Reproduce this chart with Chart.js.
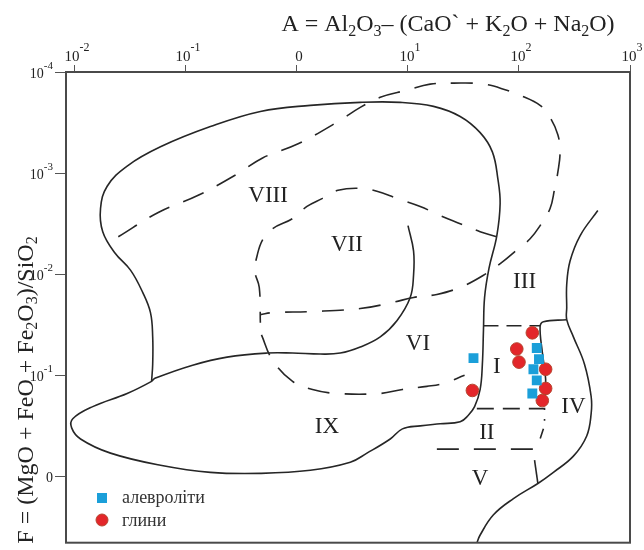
<!DOCTYPE html>
<html>
<head>
<meta charset="utf-8">
<script src="https://cdn.jsdelivr.net/npm/chart.js@4.4.0/dist/chart.umd.min.js"></script>
<style>
  html, body { margin: 0; padding: 0; background: #fff; }
  #wrap { width: 644px; height: 550px; }
</style>
</head>
<body>
<div id="wrap"><canvas id="chart" width="644" height="550"></canvas></div>
<script>
// всі значення - десяткові логарифми [lg A, lg F], зчитані з діаграми
const seriesNames = ['алевроліти', 'глини'];

const siltstones = [[1.59, -1.17], [2.16, -1.27], [2.18, -1.16], [2.13, -1.06], [2.16, -0.95], [2.12, -0.82]];
const clays = [[2.12, -1.42], [1.98, -1.26], [2.00, -1.13], [2.24, -1.06], [1.58, -0.85], [2.24, -0.87], [2.21, -0.75]];

// межі полів (суцільні)
const outerBoundary = [
    [1.00, -2.48], [1.05, -2.23], [1.05, -1.99], [1.02, -1.77], [0.90, -1.54], [0.75, -1.38], [0.57, -1.28],
    [0.39, -1.22], [0.21, -1.21], [-0.04, -1.22], [-0.27, -1.22], [-0.63, -1.18], [-0.94, -1.10], [-1.28, -0.97],
    [-1.31, -0.94], [-1.53, -0.82], [-1.84, -0.69], [-2.02, -0.57], [-2.03, -0.48], [-1.95, -0.37], [-1.68, -0.23],
    [-1.23, -0.11], [-0.78, -0.04], [-0.33, -0.03], [0.12, -0.06], [0.48, -0.14], [0.63, -0.23], [0.84, -0.37],
    [0.95, -0.47], [1.11, -0.50], [1.29, -0.52], [1.47, -0.54], [1.54, -0.60], [1.60, -0.69], [1.65, -0.86],
    [1.67, -1.11], [1.68, -1.45], [1.69, -1.77], [1.73, -2.06], [1.80, -2.38], [1.83, -2.70], [1.81, -2.94],
    [1.76, -3.21], [1.65, -3.40], [1.47, -3.56], [1.23, -3.66], [0.93, -3.70], [0.57, -3.70], [0.12, -3.67],
    [-0.33, -3.61], [-0.78, -3.46], [-1.23, -3.26], [-1.53, -3.07], [-1.71, -2.87], [-1.77, -2.65], [-1.75, -2.42],
    [-1.64, -2.21], [-1.50, -2.04], [-1.39, -1.82], [-1.32, -1.62], [-1.30, -1.38], [-1.30, -1.11], [-1.31, -0.94]
];
const rightBoundary = [
    [2.71, -2.63], [2.55, -2.38], [2.46, -2.13], [2.43, -1.90], [2.43, -1.67], [2.43, -1.55], [2.49, -1.38],
    [2.59, -1.11], [2.65, -0.79], [2.65, -0.62], [2.61, -0.40], [2.49, -0.20], [2.31, -0.04], [2.17, 0.07],
    [1.95, 0.22], [1.77, 0.38], [1.65, 0.58], [1.62, 0.66]
];
const zoneIBorder = [[2.43, -1.55], [2.22, -1.53], [2.19, -1.48], [2.21, -1.23], [2.24, -0.96], [2.23, -0.70]];
const zoneVTick = [[2.14, -0.16], [2.17, 0.07]];

// межі полів (пунктирні)
const bigDashed = [
    [-1.61, -2.37], [-1.25, -2.61], [-0.89, -2.78], [-0.54, -2.99], [-0.31, -3.15], [0.01, -3.29], [0.37, -3.51],
    [0.57, -3.65], [0.75, -3.75], [0.99, -3.82], [1.20, -3.88], [1.41, -3.89], [1.68, -3.88], [1.89, -3.82],
    [2.01, -3.77], [2.19, -3.67], [2.28, -3.55], [2.35, -3.38], [2.37, -3.21], [2.35, -3.01], [2.32, -2.84],
    [2.28, -2.65], [2.19, -2.48], [2.10, -2.35], [1.98, -2.24], [1.86, -2.13], [1.68, -1.99], [1.47, -1.87],
    [1.26, -1.80], [1.05, -1.77], [0.86, -1.72], [0.57, -1.66], [0.12, -1.63], [-0.22, -1.62], [-0.33, -1.60]
];
const zoneVIIDashed = [
    [1.80, -2.37], [1.65, -2.42], [1.47, -2.50], [1.29, -2.58], [1.11, -2.67], [0.90, -2.75], [0.72, -2.82],
    [0.57, -2.85], [0.37, -2.83], [0.23, -2.75], [0.09, -2.67], [-0.04, -2.55], [-0.22, -2.45], [-0.31, -2.34],
    [-0.36, -2.18], [-0.38, -2.03], [-0.34, -1.87], [-0.33, -1.52]
];
const zoneVIDashed = [
    [-0.32, -1.40], [-0.22, -1.15], [-0.04, -0.94], [0.14, -0.86], [0.36, -0.82], [0.75, -0.82], [0.95, -0.86],
    [1.17, -0.89], [1.32, -0.92], [1.51, -1.00]
];
const zoneITop = [[1.68, -1.49], [2.19, -1.49]];
const zoneIBottom = [[1.62, -0.67], [2.23, -0.67], [2.23, -0.55]];
const zoneIIBottom = [[1.26, -0.27], [2.16, -0.27], [2.22, -0.47]];

const zoneLabels = [
    ['VIII', -0.26, -2.79], ['VII', 0.45, -2.31], ['VI', 1.09, -1.33], ['III', 2.05, -1.94], ['I', 1.80, -1.10],
    ['IX', 0.27, -0.51], ['II', 1.71, -0.45], ['IV', 2.49, -0.71], ['V', 1.65, 0.01]
];

const xTickExp = [-2, -1, 0, 1, 2, 3];
const xTickLabels = ['10^{-2}', '10^{-1}', '0', '10^{1}', '10^{2}', '10^{3}'];
const yTickExp = [-4, -3, -2, -1, 0];
const yTickLabels = ['10^{-4}', '10^{-3}', '10^{-2}', '10^{-1}', '0'];
const xTitle = 'A = Al_{2}O_{3}\u2013 (CaO` + K_{2}O + Na_{2}O)';
const yTitle = 'F = (MgO + FeO + Fe_{2}O_{3})/SiO_{2}';

const SERIF = '"Liberation Serif", "Times New Roman", serif';
const LINE = '#262626';

const pts = arr => arr.map(([a, f]) => ({ x: 10 ** a, y: 10 ** f }));

function boundary(data, dashed, dash) {
    return {
        data: pts(data),
        showLine: true,
        borderColor: LINE,
        borderWidth: 1.6,
        borderDash: dashed ? (dash || [22, 15]) : [],
        pointRadius: 0,
        tension: data.length > 3 ? 0.4 : 0,
        fill: false
    };
}

// текст з індексами _{..} та степенями ^{..}
function richText(ctx, str, x, y, size, align, opt) {
    const parts = [];
    const re = /([_^])\{([^}]*)\}|([^_^]+)/g;
    let m;
    while ((m = re.exec(str))) {
        if (m[3]) parts.push({ t: m[3], k: 0 });
        else parts.push({ t: m[2], k: m[1] === '_' ? 1 : 2 });
    }
    const fs = k => (k ? opt.small : size);
    let w = 0;
    parts.forEach(p => {
        ctx.font = fs(p.k) + 'px ' + SERIF;
        p.w = ctx.measureText(p.t).width;
        w += p.w;
    });
    let cx = align === 'center' ? x - w / 2 : align === 'right' ? x - w : x;
    ctx.textAlign = 'left';
    ctx.textBaseline = 'alphabetic';
    parts.forEach(p => {
        ctx.font = fs(p.k) + 'px ' + SERIF;
        const dy = p.k === 1 ? opt.drop : p.k === 2 ? -opt.rise : 0;
        ctx.fillText(p.t, cx, y + dy);
        cx += p.w;
    });
}

const diagramText = {
    id: 'diagramText',
    afterDraw(chart) {
        const { ctx, chartArea: a, scales: { x, y } } = chart;
        ctx.save();
        ctx.strokeStyle = '#4a4a4a';
        ctx.lineWidth = 2;
        ctx.strokeRect(a.left, a.top, a.right - a.left, a.bottom - a.top);

        ctx.fillStyle = '#222';
        const tickOpt = { small: 12, rise: 10, drop: 0 };
        xTickExp.forEach((e, i) => {
            richText(ctx, xTickLabels[i], x.getPixelForValue(10 ** e) + 2, 61, 15, 'center', tickOpt);
        });
        const yTickOpt = { small: 11, rise: 9, drop: 0 };
        yTickExp.forEach((e, i) => {
            richText(ctx, yTickLabels[i], 53, y.getPixelForValue(10 ** e) + 6, 14, 'right', yTickOpt);
        });

        const titleOpt = { small: 16, rise: 0, drop: 5 };
        richText(ctx, xTitle, 448, 31, 24, 'center', titleOpt);
        ctx.save();
        ctx.translate(33, 390);
        ctx.rotate(-Math.PI / 2);
        richText(ctx, yTitle, 0, 0, 24, 'center', { small: 16, rise: 0, drop: 4 });
        ctx.restore();

        ctx.font = '23px ' + SERIF;
        ctx.textAlign = 'center';
        ctx.textBaseline = 'alphabetic';
        zoneLabels.forEach(([t, la, lf]) => {
            ctx.fillText(t, x.getPixelForValue(10 ** la), y.getPixelForValue(10 ** lf) + 8);
        });

        // легенда
        ctx.fillStyle = '#1b9fd9';
        ctx.fillRect(a.left + 31, a.top + 421, 10, 10);
        ctx.beginPath();
        ctx.arc(a.left + 36, a.top + 448, 6, 0, Math.PI * 2);
        ctx.fillStyle = '#e3262a';
        ctx.fill();
        ctx.strokeStyle = '#b5452f';
        ctx.lineWidth = 1;
        ctx.stroke();
        ctx.fillStyle = '#333';
        ctx.font = '18px ' + SERIF;
        ctx.textAlign = 'left';
        ctx.fillText(seriesNames[0], a.left + 56, a.top + 431);
        ctx.fillText(seriesNames[1], a.left + 56, a.top + 454);
        ctx.restore();
    }
};

new Chart(document.getElementById('chart'), {
    type: 'scatter',
    data: {
        datasets: [
            {
                label: seriesNames[0],
                data: pts(siltstones),
                pointStyle: 'rect',
                pointRadius: 7,
                backgroundColor: '#1b9fd9',
                borderWidth: 0
            },
            {
                label: seriesNames[1],
                data: pts(clays),
                pointStyle: 'circle',
                pointRadius: 6.3,
                backgroundColor: '#e3262a',
                borderColor: '#b5452f',
                borderWidth: 1
            },
            boundary(outerBoundary, false),
            boundary(rightBoundary, false),
            boundary(zoneIBorder, false),
            boundary(zoneVTick, false),
            boundary(bigDashed, true),
            boundary(zoneVIIDashed, true),
            boundary(zoneVIDashed, true),
            boundary(zoneITop, true, [15, 8]),
            boundary(zoneIBottom, true, [17, 9]),
            boundary(zoneIIBottom, true, [22, 15])
        ]
    },
    options: {
        responsive: false,
        animation: false,
        devicePixelRatio: 1,
        layout: { padding: { left: 55, top: 65, right: 14, bottom: 2 } },
        plugins: {
            legend: { display: false },
            tooltip: { enabled: false }
        },
        scales: {
            x: {
                type: 'logarithmic',
                position: 'top',
                min: 10 ** -2.081,
                max: 1000,
                afterBuildTicks: s => { s.ticks = xTickExp.map(e => ({ value: 10 ** e })); },
                ticks: { display: false },
                border: { display: false },
                grid: { drawOnChartArea: false, drawTicks: true, tickLength: 7, color: '#555' }
            },
            y: {
                type: 'logarithmic',
                reverse: true,
                min: 1e-4,
                max: 10 ** 0.656,
                afterBuildTicks: s => { s.ticks = yTickExp.map(e => ({ value: 10 ** e })); },
                ticks: { display: false },
                border: { display: false },
                grid: { drawOnChartArea: false, drawTicks: true, tickLength: 11, color: '#555' }
            }
        }
    },
    plugins: [diagramText]
});
</script>
</body>
</html>
